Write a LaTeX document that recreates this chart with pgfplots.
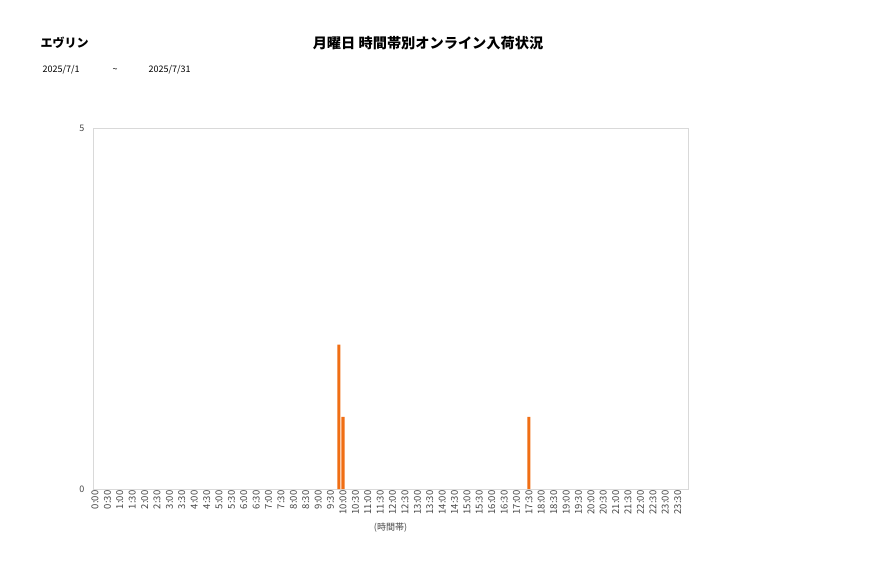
\documentclass[border=0pt]{standalone}
\usepackage{pgfplots}
\pgfplotsset{compat=1.18}
\usepackage{fontspec}
\setmainfont{Noto Sans CJK JP}
\definecolor{barorange}{RGB}{240,110,20}
\definecolor{framegray}{RGB}{217,217,217}
\definecolor{labgray}{RGB}{70,70,70}

\begin{document}
\begin{tikzpicture}
\path[use as bounding box] (0pt,0pt) rectangle (877pt,578pt);
\node[anchor=west,font=\bfseries\fontsize{12}{12}\selectfont] at (37pt,535pt) {エヴリン};
\node[font=\bfseries\fontsize{14.2}{14}\selectfont] at (428pt,535pt) {月曜日 時間帯別オンライン入荷状況};
\node[anchor=west,font=\fontsize{9}{9}\selectfont] at (39pt,508pt) {2025/7/1};
\node[font=\fontsize{9}{9}\selectfont] at (115pt,508pt) {\char"007E};
\node[anchor=west,font=\fontsize{9}{9}\selectfont] at (145pt,508pt) {2025/7/31};
\begin{axis}[
    at={(93pt,89pt)}, anchor=south west,
    scale only axis, width=595pt, height=361pt,
    xmin=-0.5, xmax=143.5,
    ymin=0, ymax=5,
    ytick={0,5},
    xtick={0,3,...,141},
    xticklabels={0:00,0:30,1:00,1:30,2:00,2:30,3:00,3:30,4:00,4:30,5:00,5:30,
        6:00,6:30,7:00,7:30,8:00,8:30,9:00,9:30,10:00,10:30,11:00,11:30,
        12:00,12:30,13:00,13:30,14:00,14:30,15:00,15:30,16:00,16:30,17:00,17:30,
        18:00,18:30,19:00,19:30,20:00,20:30,21:00,21:30,22:00,22:30,23:00,23:30},
    xticklabel style={rotate=90, anchor=east, font=\fontsize{9.5}{9.5}\selectfont, text=labgray, inner sep=1.5pt},
    yticklabel style={font=\fontsize{9}{9}\selectfont, text=labgray, xshift=-5pt},
    major tick length=0pt,
    axis line style={framegray},
    xlabel={(時間帯)},
    xlabel style={font=\fontsize{9}{9}\selectfont, text=labgray, at={(axis description cs:0.5,0)}, anchor=center, yshift=-39pt},
    /pgf/number format/assume math mode=true,
    ybar, bar width=0.75, bar shift=0pt,
]
\addplot[fill=barorange, draw=none] coordinates {(59,2) (60,1) (105,1)};
\end{axis}
\end{tikzpicture}
\end{document}
